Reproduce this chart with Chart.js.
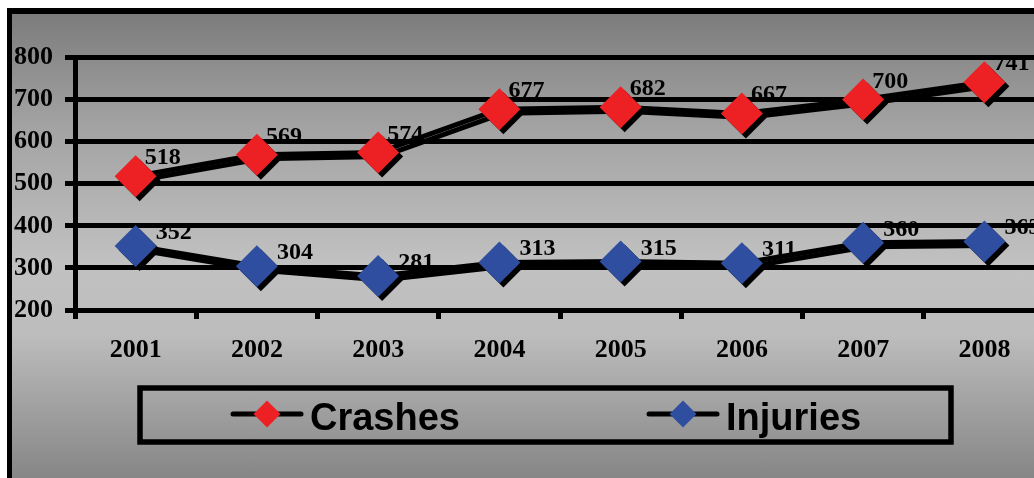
<!DOCTYPE html>
<html>
<head>
<meta charset="utf-8">
<script src="https://cdn.jsdelivr.net/npm/chart.js@4.4.1/dist/chart.umd.min.js"></script>
<style>
html, body { margin:0; padding:0; background:#fff; overflow:hidden; width:1034px; height:478px; }
#frame { position:absolute; left:7px; top:8px; width:1100px; height:520px;
  border-left:5px solid #000; border-top:6px solid #000;
  background:linear-gradient(to bottom, #7c7c7c 0px, #a2a2a2 110px, #c1c1c1 250px, #bdbdbd 320px, #9e9e9e 400px, #848484 470px); }
#chart { position:absolute; left:0; top:0; }
</style>
</head>
<body>
<div id="frame"></div>
<canvas id="chart" width="1080" height="478"></canvas>
<script>
// values
var years = ['2001', '2002', '2003', '2004', '2005', '2006', '2007', '2008']
var crashes = [518, 569, 574, 677, 682, 667, 700, 741]
var injuries = [352, 304, 281, 313, 315, 311, 360, 363]
var yTicks = [200, 300, 400, 500, 600, 700, 800]

var serif = '"Liberation Serif", "Times New Roman", serif'
var sans = '"Liberation Sans", Arial, sans-serif'

// black drop shadow under the lines and markers
var shadowPlugin = {
    id: 'shadow',
    beforeDatasetsDraw: function(chart){
        var c = chart.ctx
        c.save()
        c.shadowColor = '#000'
        c.shadowOffsetX = 4
        c.shadowOffsetY = 4
        c.shadowBlur = 0
    },
    afterDatasetsDraw: function(chart){
        chart.ctx.restore()
    }
}

// value labels up and right of each point
var labelPlugin = {
    id: 'valueLabels',
    afterDatasetsDraw: function(chart){
        var c = chart.ctx
        var offsets = [[9, -12], [20, -7]]
        c.save()
        c.font = 'bold 24px ' + serif
        c.fillStyle = '#000'
        c.textAlign = 'left'
        c.textBaseline = 'alphabetic'
        chart.data.datasets.forEach(function(ds, i){
            var meta = chart.getDatasetMeta(i)
            meta.data.forEach(function(pt, j){
                c.fillText(ds.data[j], pt.x + offsets[i][0], pt.y + offsets[i][1])
            })
        })
        c.restore()
    }
}

// boxed legend below the axis
var legendPlugin = {
    id: 'boxLegend',
    afterDraw: function(chart){
        var c = chart.ctx
        c.save()
        c.lineWidth = 5.5
        c.strokeStyle = '#000'
        c.strokeRect(140, 388, 811, 54)
        var starts = [233, 649]
        var y = 414
        chart.data.datasets.forEach(function(ds, i){
            var x = starts[i]
            c.beginPath()
            c.lineWidth = 5
            c.lineCap = 'round'
            c.strokeStyle = '#000'
            c.moveTo(x, y)
            c.lineTo(x + 68, y)
            c.stroke()
            c.fillStyle = ds.pointBackgroundColor
            Chart.helpers.drawPoint(c, {pointStyle: 'rectRot', radius: 13.5, borderWidth: 0}, x + 34, y)
            c.fillStyle = '#000'
            c.font = 'bold 38px ' + sans
            c.textBaseline = 'alphabetic'
            c.textAlign = 'left'
            c.fillText(ds.label, x + 77, y + 16)
        })
        c.restore()
    }
}

var ctx = document.getElementById('chart').getContext('2d')
var chart = new Chart(ctx, {
    type: 'line',
    data: {
        labels: years,
        datasets: [{
            label: 'Crashes',
            data: crashes,
            borderColor: '#000',
            borderWidth: 5,
            pointStyle: 'rectRot',
            pointRadius: 21,
            pointBackgroundColor: '#ed2024',
            pointBorderWidth: 0,
            tension: 0
        }, {
            label: 'Injuries',
            data: injuries,
            borderColor: '#000',
            borderWidth: 5,
            pointStyle: 'rectRot',
            pointRadius: 21,
            pointBackgroundColor: '#2f4ea0',
            pointBorderWidth: 0,
            tension: 0
        }]
    },
    options: {
        responsive: false,
        animation: false,
        layout: { padding: { left: 0, top: 57.5, right: 35, bottom: 108 } },
        plugins: { legend: { display: false }, tooltip: { enabled: false } },
        scales: {
            x: {
                offset: true,
                grid: { drawOnChartArea: false, drawTicks: true, tickLength: 9, lineWidth: 5, color: '#000', offset: true },
                border: { display: true, width: 5, color: '#000' },
                ticks: { color: '#000', font: { family: serif, size: 26, weight: 'bold' }, padding: 16 },
                afterFit: function(s){ s.height = 60 }
            },
            y: {
                min: yTicks[0],
                max: yTicks[yTicks.length - 1],
                afterBuildTicks: function(s){ s.ticks = yTicks.map(function(v){ return {value: v} }) },
                grid: { color: '#000', lineWidth: 5, tickLength: 10 },
                border: { display: true, width: 5, color: '#000' },
                ticks: { color: '#000', font: { family: serif, size: 26, weight: 'bold' }, padding: 12 },
                afterFit: function(s){ s.width = 75 }
            }
        }
    },
    plugins: [shadowPlugin, labelPlugin, legendPlugin]
})
</script>
</body>
</html>
